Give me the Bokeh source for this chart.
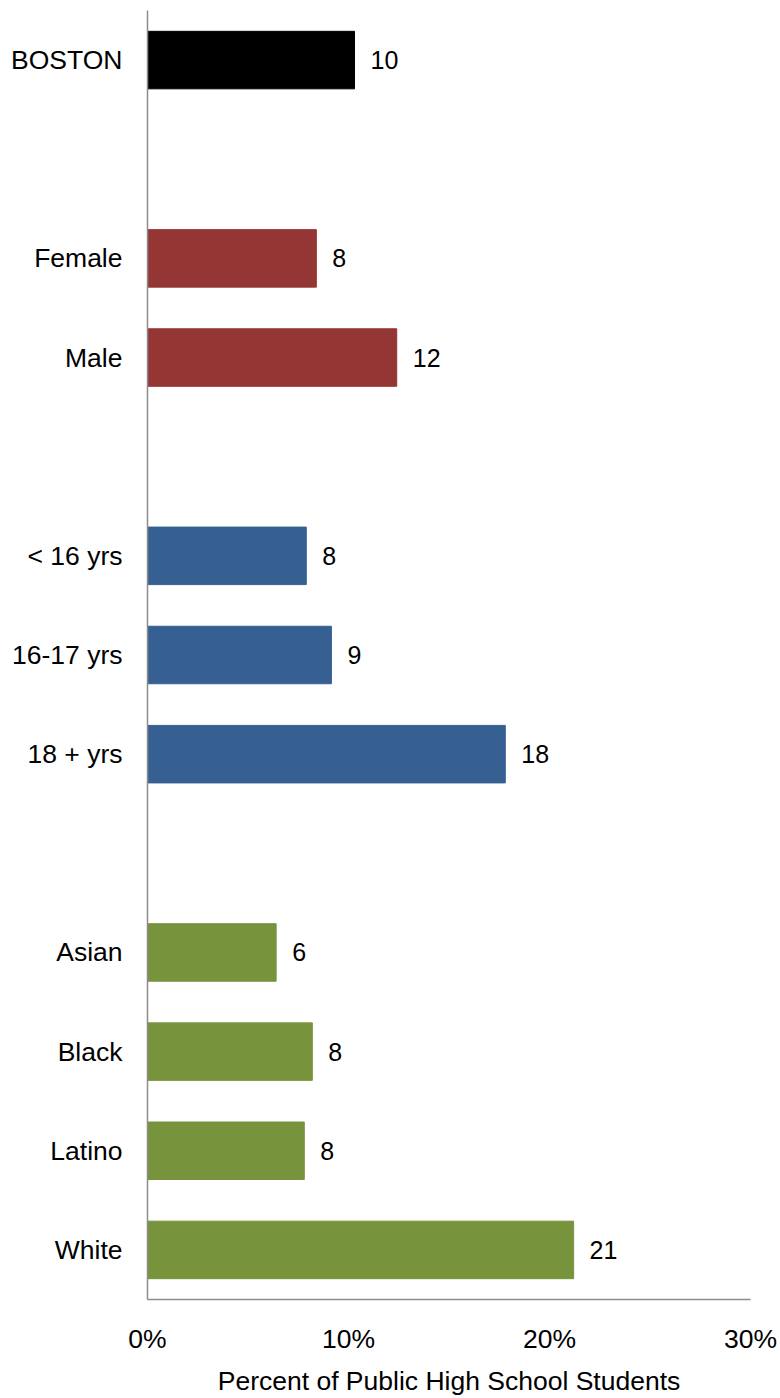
from bokeh.plotting import figure
from bokeh.models import ColumnDataSource, FactorRange, Range1d, FixedTicker, PrintfTickFormatter, LabelSet
from bokeh.core.properties import value
from bokeh.embed import file_html
from bokeh.resources import INLINE

# Data
rows = ["BOSTON", " ", "Female", "Male", "  ", "< 16 yrs", "16-17 yrs", "18 + yrs", "   ",
        "Asian", "Black", "Latino", "White"]
categories = ["BOSTON", "Female", "Male", "< 16 yrs", "16-17 yrs", "18 + yrs",
              "Asian", "Black", "Latino", "White"]
groups = ["Total", "Gender", "Gender", "Age", "Age", "Age", "Race", "Race", "Race", "Race"]
values = [10.3, 8.4, 12.4, 7.9, 9.15, 17.8, 6.4, 8.2, 7.8, 21.2]
x_ticks = [0, 10, 20, 30]

palette = {"Total": "#000000", "Gender": "#943634", "Age": "#366092", "Race": "#77933C"}

src = ColumnDataSource(dict(
    cat=categories,
    val=values,
    color=[palette[g] for g in groups],
    lab=[str(int(round(v))) for v in values],
))

FONT = "Liberation Sans"

p = figure(width=780, height=1398, output_backend="svg", toolbar_location=None,
           y_range=FactorRange(factors=list(reversed(rows)), range_padding=0),
           x_range=Range1d(0, 30),
           min_border_left=147, min_border_right=30, min_border_top=10, min_border_bottom=99)
p.outline_line_color = None
p.grid.grid_line_color = None

p.hbar(y="cat", right="val", left=0, height=0.58, color="color", source=src)

labels = LabelSet(x="val", y="cat", text="lab", source=src, x_offset=16,
                  text_align="left", text_baseline="middle",
                  text_font=value(FONT), text_font_size="25px", text_color="#000000")
p.add_layout(labels)

for ax in (p.xaxis[0], p.yaxis[0]):
    ax.axis_line_color = "#8c8c8c"
    ax.axis_line_width = 1.5
    ax.major_tick_line_color = None
    ax.minor_tick_line_color = None
    ax.major_label_text_font = FONT
    ax.major_label_text_color = "#000000"

p.yaxis.major_label_text_font_size = "26.5px"
p.xaxis.major_label_text_font_size = "26.5px"
p.yaxis.major_label_standoff = 19
p.xaxis.ticker = FixedTicker(ticks=x_ticks)
p.xaxis.formatter = PrintfTickFormatter(format="%d%%")
p.xaxis.major_label_standoff = 18
p.xaxis.axis_label = "Percent of Public High School Students"
p.xaxis.axis_label_text_font = FONT
p.xaxis.axis_label_text_font_size = "26.5px"
p.xaxis.axis_label_text_font_style = "normal"
p.xaxis.axis_label_text_color = "#000000"
p.xaxis.axis_label_standoff = 9

open("out.html", "w").write(file_html(p, INLINE))
